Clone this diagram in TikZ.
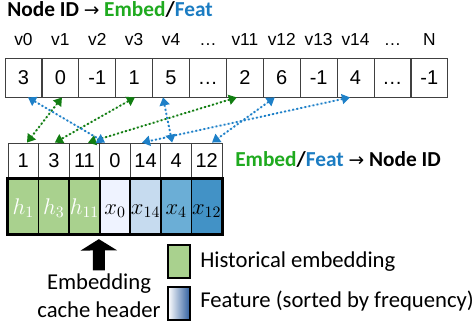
\documentclass[tikz,border=0pt]{standalone}
\usepackage{fix-cm}
\usepackage{fontspec}
\setmainfont{Carlito}
\newfontfamily\arialfont{Liberation Sans}
\newfontfamily\symfont{DejaVu Sans}
\newcommand{\maparrow}{{\symfont\mdseries\fontsize{14}{16}\selectfont →}}
\usetikzlibrary{arrows.meta, positioning, calc, fit}
\definecolor{embedGreen}{HTML}{1FAA1F}
\definecolor{featBlue}{HTML}{1B7CC2}
\definecolor{linkGreen}{HTML}{117D11}
\definecolor{linkBlue}{HTML}{1E80C8}
\definecolor{histFill}{HTML}{A9D18E}
\definecolor{featA}{HTML}{EFF3FF}
\definecolor{featB}{HTML}{C6DBEF}
\definecolor{featC}{HTML}{6BAED6}
\definecolor{featD}{HTML}{4292C6}
\definecolor{legendBlue}{HTML}{2F5E9E}

\begin{document}
\begin{tikzpicture}[
    x=0.75pt, y=-0.75pt,
    every node/.style={inner sep=0pt},
    titletext/.style={font=\bfseries\fontsize{16}{18}\selectfont},
    legendtext/.style={font=\fontsize{17}{21.4}\selectfont},
    idxlabel/.style={font=\arialfont\fontsize{13}{15}\selectfont},
    idcell/.style={
        rectangle, draw=black!75, line width=0.6pt,
        minimum width=27.7pt, minimum height=29.25pt,
        font=\arialfont\fontsize{15}{15}\selectfont,
        text height=10.7pt, text depth=0pt
    },
    keycell/.style={idcell, minimum width=22.93pt, minimum height=26.25pt},
    veccell/.style={
        rectangle, draw=black, line width=1.3pt,
        minimum width=22.93pt, minimum height=41.25pt,
        font=\fontsize{17}{17}\selectfont,
        text height=13.5pt, text depth=2pt
    },
    legendbox/.style={
        rectangle, draw=black, line width=1.5pt,
        minimum width=16.5pt, minimum height=24.75pt
    },
    link/.style={
        line width=1.4pt, dash pattern=on 1.4pt off 1.7pt,
        {Triangle[length=6pt,width=7.5pt]}-{Triangle[length=6pt,width=7.5pt]}
    },
    embedlink/.style={link, draw=linkGreen, fill=linkGreen},
    featlink/.style={link, draw=linkBlue, fill=linkBlue},
    cachearrow/.style={
        -{Triangle[length=8.5pt,width=27pt]}, line width=9pt,
        shorten <=2pt, shorten >=3pt
    }
]
\useasboundingbox (0,0) rectangle (475,327);

% node id -> slot table
\node[titletext, anchor=base west] (title) at (7,17)
    {Node ID \maparrow{} \textcolor{embedGreen}{Embed}/\textcolor{featBlue}{Feat}};

\foreach \v [count=\i from 0] in {3,0,-1,1,5,\ldots,2,6,-1,4,\ldots,-1}
    \node[idcell] (t\i) at ({5+36.9*(\i+0.5)}, 77.5) {\v};

\foreach \l [count=\i from 0] in {v0,v1,v2,v3,v4,\ldots,v11,v12,v13,v14,\ldots,N}
    \node[idxlabel, anchor=base] (l\i) at ([yshift=9pt]t\i.north) {\l};

% slot -> node id, with cached embeddings and features
\foreach \k/\v/\c/\t [count=\i from 0] in {1/h_{1}/histFill/white, 3/h_{3}/histFill/white,
        11/h_{11}/histFill/white, 0/x_{0}/featA/black, 14/x_{14}/featB/black,
        4/x_{4}/featC/black, 12/x_{12}/featD/black}{
    \node[keycell] (k\i) at ({8+30.57*(\i+0.5)}, 160.5) {\k};
    \node[veccell, fill=\c, text=\t, below=0pt of k\i] (e\i) {$\v$};
}
\node[draw=black, line width=2pt, fit=(e0)(e6)] (vecframe) {};

\node[titletext, anchor=base west] (revtitle) at (235,167)
    {\textcolor{embedGreen}{Embed}/\textcolor{featBlue}{Feat} \maparrow{} Node ID};

\foreach \a/\da/\b/\db in {1/1.6/0/3.7, 3/0.8/1/1, 6/-8/2/3.6}
    \draw[embedlink] ($(t\a.south)+(\da,0)$) -- ($(k\b.north)+(\db,0)$);
\foreach \a/\da/\b/\db in {0/4.5/3/-10, 4/-8/5/-4, 7/-7/6/5.3, 9/-5.6/4/-3.6}
    \draw[featlink] ($(t\a.south)+(\da,0)$) -- ($(k\b.north)+(\db,0)$);

% cache header
\node[legendtext, align=center, anchor=north] (cachecap) at (99,273) {Embedding\\cache header};
\draw[cachearrow] (cachecap.north) -- (e3.south west);

% legend
\node[legendbox, fill=histFill] (histkey) at (179,261.5) {};
\node[legendbox, left color=white, right color=legendBlue] (featkey) at (179,303.5) {};
\node[legendtext, anchor=base west] (histtext) at (200,268) {Historical embedding};
\node[legendtext, anchor=base west] (feattext) at (200,308) {Feature (sorted by frequency)};

\end{tikzpicture}
\end{document}
